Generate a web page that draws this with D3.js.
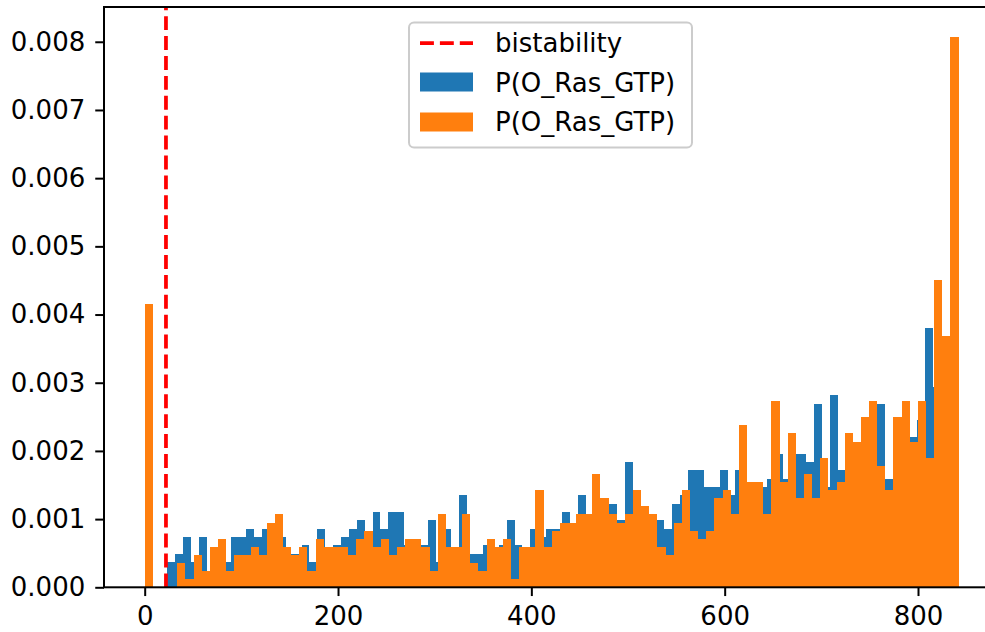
<!DOCTYPE html>
<html>
<head>
<meta charset="utf-8">
<script src="https://cdn.jsdelivr.net/npm/d3@7"></script>
<style>
  body { margin: 0; background: #fff; }
  svg text { font-family: "DejaVu Sans", sans-serif; }
</style>
</head>
<body>
<script>
// histogram densities, 100 bins each
let orangeRange = [0, 842]
let orangeVals = [
  0.004157, 0, 0, 0, 0.000356, 0.000119, 0.000475, 0.000238, 0.000594, 0.000713,
  0.000238, 0.000475, 0.000475, 0.000594, 0.000475, 0.000950, 0.001069, 0.000594, 0.000475, 0.000594,
  0.000238, 0.000713, 0.000594, 0.000594, 0.000594, 0.000475, 0.000713, 0.000831, 0.000594, 0.000713,
  0.000475, 0.000594, 0.000713, 0.000713, 0.000594, 0.000238, 0.001069, 0.000594, 0.000594, 0.001069,
  0.000356, 0.000238, 0.000713, 0.000594, 0.000713, 0.000119, 0.000594, 0.000594, 0.001425, 0.000594,
  0.000831, 0.000950, 0.000950, 0.001069, 0.001069, 0.001663, 0.001306, 0.001069, 0.000950, 0.001069,
  0.001425, 0.001188, 0.001069, 0.000594, 0.000475, 0.000950, 0.001425, 0.000831, 0.000713, 0.000831,
  0.001306, 0.001425, 0.001069, 0.002375, 0.001544, 0.001544, 0.001069, 0.002731, 0.001544, 0.002256,
  0.001306, 0.001663, 0.001306, 0.001900, 0.001425, 0.001544, 0.002256, 0.002138, 0.002494, 0.002731,
  0.001781, 0.001425, 0.002494, 0.002731, 0.002138, 0.002731, 0.001900, 0.004513, 0.003682, 0.008076
]
let blueRange = [23.5, 839.7]
let blueVals = [
  0.000368, 0.000490, 0.000735, 0.000368, 0.000735, 0.000245, 0.000490, 0.000368, 0.000735, 0.000735,
  0.000858, 0.000735, 0.000858, 0.000735, 0.000735, 0.000490, 0.000490, 0.000613, 0.000368, 0.000858,
  0.000490, 0.000613, 0.000735, 0.000858, 0.000980, 0.000735, 0.001103, 0.000858, 0.001103, 0.001103,
  0.000613, 0.000613, 0.000613, 0.000980, 0.000368, 0.000858, 0.000490, 0.001348, 0.000490, 0.000490,
  0.000613, 0.000490, 0.000613, 0.000980, 0.000613, 0.000490, 0.000858, 0.000735, 0.000858, 0.000858,
  0.001103, 0.000858, 0.001348, 0.000980, 0.001225, 0.001103, 0.001225, 0.000980, 0.001838, 0.001225,
  0.001103, 0.000980, 0.000980, 0.000858, 0.001225, 0.001348, 0.001715, 0.001715, 0.001470, 0.001470,
  0.001715, 0.001348, 0.001715, 0.001470, 0.001470, 0.001470, 0.001593, 0.001960, 0.001593, 0.001960,
  0.001960, 0.001838, 0.002695, 0.001470, 0.002818, 0.001715, 0.001960, 0.002083, 0.002205, 0.002083,
  0.002695, 0.001593, 0.002205, 0.002450, 0.002205, 0.002450, 0.003798, 0.002940, 0.002695, 0.003063
]
let bistability = 22
let xTicks = [0, 200, 400, 600, 800]
let yTicks = [0, 0.001, 0.002, 0.003, 0.004, 0.005, 0.006, 0.007, 0.008]
let legendLabels = ["bistability", "P(O_Ras_GTP)", "P(O_Ras_GTP)"]

let w = 985, h = 632
let margin = {left: 104, top: 7, bottom: 44.7}

let x = d3.scaleLinear().domain([-42.1, 884.1]).range([margin.left, 999.3])
let y = d3.scaleLinear().domain([0, 0.00851]).range([h - margin.bottom, margin.top])

let svg = d3.select("body").append("svg").attr("width", w).attr("height", h)

function bins(range, vals) {
  let step = (range[1] - range[0]) / vals.length
  return vals.map((v, i) => ({x0: range[0] + i * step, x1: range[0] + (i + 1) * step, v: v}))
}

let series = [
  {data: bins(blueRange, blueVals), color: "#1f77b4"},
  {data: bins(orangeRange, orangeVals), color: "#ff7f0e"}
]

series.forEach((s) => {
  svg.append("g").selectAll("rect")
    .data(s.data.filter(d => d.v > 0))
    .enter().append("rect")
      .attr("x", d => x(d.x0))
      .attr("width", d => x(d.x1) - x(d.x0))
      .attr("y", d => y(d.v))
      .attr("height", d => y(0) - y(d.v))
      .attr("fill", s.color)
      .attr("shape-rendering", "crispEdges")
})

// bistability line
svg.append("line")
  .attr("x1", x(bistability)).attr("x2", x(bistability))
  .attr("y1", y.range()[0]).attr("y2", y.range()[1])
  .attr("stroke", "red").attr("stroke-width", 3.75)
  .attr("stroke-dasharray", "13.9,6")

// axes
let xAxis = svg.append("g")
  .attr("transform", "translate(0," + y.range()[0] + ")")
  .call(d3.axisBottom(x).tickValues(xTicks).tickFormat(d3.format("d")).tickSize(8.75).tickPadding(10).tickSizeOuter(0))
let yAxis = svg.append("g")
  .attr("transform", "translate(" + margin.left + ",0)")
  .call(d3.axisLeft(y).tickValues(yTicks).tickFormat(d3.format(".3f")).tickSize(8.75).tickPadding(10).tickSizeOuter(0))

;[xAxis, yAxis].forEach((g) => {
  g.select(".domain").remove()
  g.selectAll(".tick line").attr("stroke", "#000").attr("stroke-width", 2)
  g.selectAll(".tick text").attr("fill", "#000").style("font-size", "26px")
})

// spines
svg.append("rect")
  .attr("x", x.range()[0]).attr("y", y.range()[1])
  .attr("width", x.range()[1] - x.range()[0]).attr("height", y.range()[0] - y.range()[1])
  .attr("fill", "none").attr("stroke", "#000").attr("stroke-width", 2)

// legend
let lg = svg.append("g").attr("transform", "translate(409,22.5)")
lg.append("rect")
  .attr("width", 283).attr("height", 125).attr("rx", 5)
  .attr("fill", "#fff").attr("fill-opacity", 0.8)
  .attr("stroke", "#cccccc").attr("stroke-width", 2)
lg.append("line")
  .attr("x1", 11).attr("x2", 64).attr("y1", 20.5).attr("y2", 20.5)
  .attr("stroke", "red").attr("stroke-width", 3.75).attr("stroke-dasharray", "13.9,6")
lg.append("rect").attr("x", 11).attr("y", 50).attr("width", 53).attr("height", 19).attr("fill", "#1f77b4")
lg.append("rect").attr("x", 11).attr("y", 90).attr("width", 53).attr("height", 19).attr("fill", "#ff7f0e")
legendLabels.forEach((t, i) => {
  lg.append("text")
    .attr("x", 86).attr("y", 20.5 + i * 39.5)
    .attr("dy", "0.35em")
    .style("font-size", "26px")
    .attr("fill", "#000")
    .text(t)
})
</script>
</body>
</html>
